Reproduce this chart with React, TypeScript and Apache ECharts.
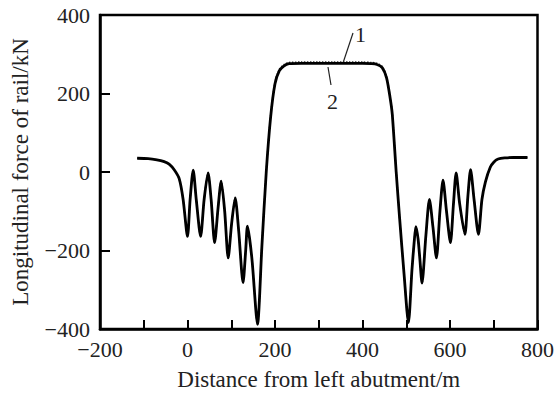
import React, { useEffect, useRef } from "react";
import * as echarts from "echarts";

// Curve 1 (solid)
const xs1: number[] = [
  -115, -90, -70, -55, -42, -30, -19, -10, 0, 6, 13, 20, 30, 38, 47, 54, 62, 70, 77, 85,
  93, 101, 109, 117, 127, 133, 137, 142, 148, 160, 170, 180, 190, 200, 210, 220, 232, 260,
  300, 332, 370, 400, 420, 433, 445, 455, 463, 468, 477, 485, 495, 505, 513, 518, 522, 527,
  531, 536, 545, 553, 561, 569, 577, 584, 592, 601, 608, 614, 622, 634, 641, 647, 655, 665,
  673, 681, 692, 700, 710, 725, 745, 777,
];
const ys1: number[] = [
  35, 34, 31, 27, 20, 5, -17, -70, -164, -70, 5, -70, -164, -70, -2, -70, -180, -90, -23, -100,
  -219, -130, -66, -150, -282, -200, -138, -170, -230, -388, -190, 0, 140, 225, 258, 270, 276, 277,
  277, 277, 277, 277, 276, 274, 266, 240, 190, 148, 0, -120, -260, -384, -250, -180, -139, -170,
  -220, -283, -160, -70, -140, -219, -100, -21, -100, -180, -80, -2, -80, -159, -60, 6, -70, -159,
  -70, -25, 12, 25, 33, 36, 37, 37,
];

// Curve 2 (dotted), nearly coincident with curve 1
const xs2: number[] = [
  -115, -90, -70, -55, -42, -30, -19, -10, 0, 6, 13, 20, 30, 38, 47, 54, 62, 70, 77, 85,
  93, 101, 109, 117, 127, 133, 137, 142, 148, 160, 170, 180, 190, 200, 210, 220, 232, 260,
  300, 332, 370, 400, 420, 433, 445, 455, 463, 468, 477, 485, 495, 505, 513, 518, 522, 527,
  531, 536, 545, 553, 561, 569, 577, 584, 592, 601, 608, 614, 622, 634, 641, 647, 655, 665,
  673, 681, 692, 700, 710, 725, 745, 777,
];
const ys2: number[] = [
  35, 34, 31, 27, 20, 5, -17, -70, -164, -70, 5, -70, -164, -70, -2, -70, -180, -90, -23, -100,
  -219, -130, -66, -150, -282, -200, -138, -170, -230, -388, -188, 3, 144, 229, 262, 273, 279, 280,
  280, 280, 280, 280, 279, 277, 269, 243, 193, 151, 3, -120, -260, -384, -250, -180, -139, -170,
  -220, -283, -160, -70, -140, -219, -100, -21, -100, -180, -80, -2, -80, -159, -60, 6, -70, -159,
  -70, -25, 12, 25, 33, 36, 37, 37,
];

const xTitle = "Distance from left abutment/m";
const yTitle = "Longitudinal force of rail/kN";
const curveLabels = ["1", "2"];

const FONT = "Liberation Serif";

export default function App() {
  const ref = useRef<HTMLDivElement>(null);
  useEffect(() => {
    if (!ref.current) return;
    const chart = echarts.init(ref.current, undefined, { renderer: "svg" });
    const fmt = (v: number) => String(v).replace("-", "\u2212");
    chart.setOption({
      animation: false,
      backgroundColor: "#ffffff",
      grid: {
        left: 100,
        right: 14,
        top: 15,
        bottom: 58,
        show: true,
        borderColor: "#000",
        borderWidth: 2.5,
        backgroundColor: "transparent",
      },
      xAxis: {
        type: "value",
        min: -200,
        max: 800,
        interval: 100,
        name: xTitle,
        nameLocation: "middle",
        nameGap: 39,
        nameTextStyle: { fontFamily: FONT, fontSize: 23, color: "#222" },
        axisLine: { show: true, onZero: false, lineStyle: { color: "#000", width: 2.5 } },
        axisTick: { show: true, inside: true, length: 9, interval: 0, lineStyle: { color: "#000", width: 2 } },
        axisLabel: {
          margin: 9,
          fontFamily: FONT,
          fontSize: 22,
          color: "#222",
          formatter: (v: number) => (v % 200 === 0 ? fmt(v) : ""),
        },
        splitLine: { show: false },
      },
      yAxis: {
        type: "value",
        min: -400,
        max: 400,
        interval: 200,
        name: yTitle,
        nameLocation: "middle",
        nameGap: 68,
        nameTextStyle: { fontFamily: FONT, fontSize: 23, color: "#222" },
        axisLine: { show: true, onZero: false, lineStyle: { color: "#000", width: 2.5 } },
        axisTick: { show: true, inside: true, length: 10, lineStyle: { color: "#000", width: 2 } },
        axisLabel: {
          margin: 10,
          fontFamily: FONT,
          fontSize: 22,
          color: "#222",
          formatter: (v: number) => fmt(v),
        },
        splitLine: { show: false },
      },
      series: [
        {
          name: curveLabels[0],
          type: "line",
          data: xs1.map((x, i) => [x, ys1[i]]),
          showSymbol: false,
          smooth: 0.25,
          lineStyle: { color: "#000", width: 2.8 },
          z: 3,
        },
        {
          name: curveLabels[1],
          type: "line",
          data: xs2.map((x, i) => [x, ys2[i]]),
          showSymbol: false,
          smooth: 0.25,
          lineStyle: { color: "#333", width: 1.5, type: "dotted" },
          z: 2,
        },
      ],
      graphic: [
        { type: "line", shape: { x1: 353, y1: 33, x2: 343, y2: 63 }, style: { stroke: "#222", lineWidth: 1.2 } },
        { type: "text", x: 355, y: 23, style: { text: curveLabels[0], font: `22px '${FONT}'`, fill: "#222" } },
        { type: "line", shape: { x1: 328, y1: 67, x2: 331, y2: 85 }, style: { stroke: "#222", lineWidth: 1.2 } },
        { type: "text", x: 327, y: 90, style: { text: curveLabels[1], font: `22px '${FONT}'`, fill: "#222" } },
      ],
    });
    return () => chart.dispose();
  }, []);
  return <div ref={ref} style={{ width: 557, height: 396, position: "absolute", left: 0, top: 0 }} />;
}
